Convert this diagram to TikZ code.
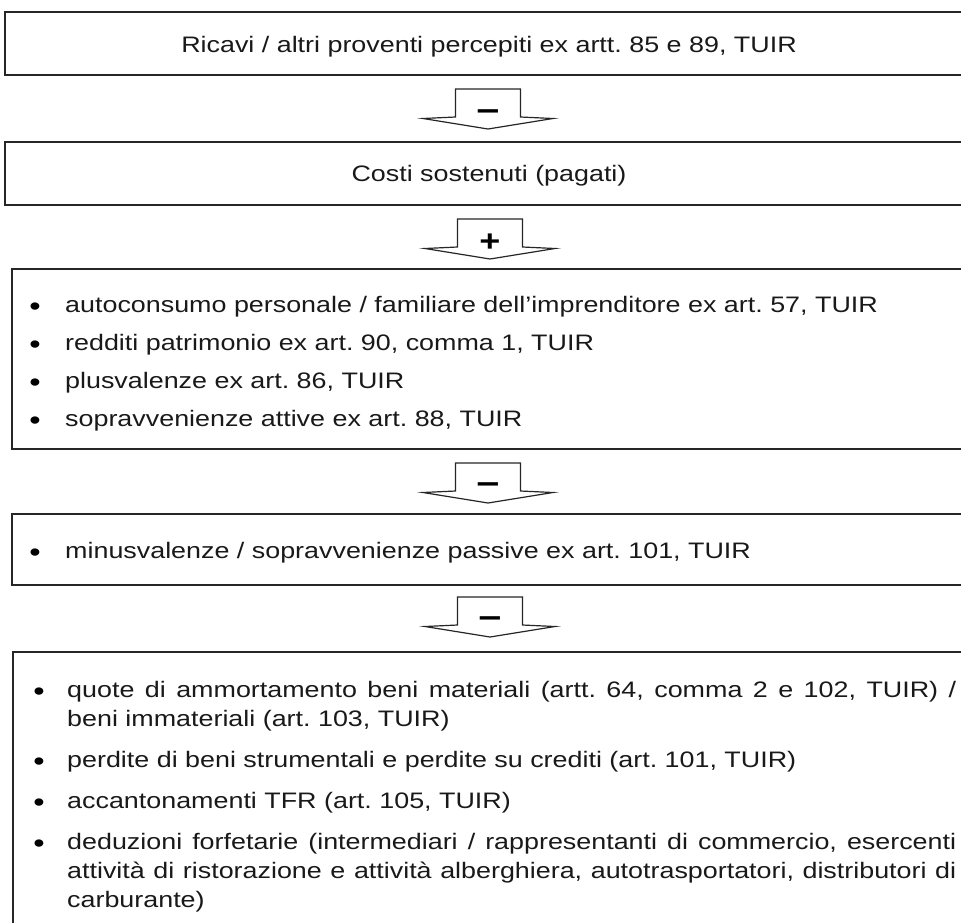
\documentclass[tikz,border=0pt]{standalone}
\usepackage{fontspec}
\setmainfont{Liberation Sans}[FakeStretch=1.2]
\frenchspacing
\begin{document}
\begin{tikzpicture}[x=1pt,y=-1pt,
  boxline/.style={draw=black!85,line width=1.4pt},
  txt/.style={inner sep=0pt,anchor=base west,font=\fontsize{22.4}{29}\selectfont\frenchspacing,text=black!90},
  ctxt/.style={inner sep=0pt,anchor=base,font=\fontsize{22.4}{29}\selectfont\frenchspacing,text=black!90},
  bul/.style={inner sep=0pt,anchor=base,font=\fontsize{27}{27}\selectfont},
  minussign/.style={inner sep=0pt,anchor=center,font=\fontsize{34}{34}\selectfont\bfseries},
  plussign/.style={inner sep=0pt,anchor=center,font=\fontsize{30}{30}\selectfont\bfseries},
  arrline/.style={draw=black!85,line width=1.2pt,fill=white,line join=miter},
  downarr/.pic={\path[arrline] (-32.5,0) -- (-32.5,28) -- (-65,29.5) -- (0,40) -- (65,29.5) -- (32.5,28) -- (32.5,0) -- cycle;}
]
\useasboundingbox (0,0) rectangle (961,922);
\clip (0,0) rectangle (961,922);

% boxes
\draw[boxline] (5,12) rectangle (975,75);
\draw[boxline] (5,142) rectangle (975,205);
\draw[boxline] (12,269) rectangle (975,449);
\draw[boxline] (12,514) rectangle (975,585);
\draw[boxline] (13,652) rectangle (975,940);

% box texts
\node[ctxt] (t1) at (489,52) {Ricavi / altri proventi percepiti ex artt. 85 e 89, TUIR};
\node[ctxt] (t2) at (489,181) {Costi sostenuti (pagati)};

\node[bul] (b31) at (35,315.5) {•};
\node[txt] (t31) at (65,312) {autoconsumo personale / familiare dell’imprenditore ex art. 57, TUIR};
\node[bul] (b32) at (35,353.5) {•};
\node[txt] (t32) at (65,350) {redditi patrimonio ex art. 90, comma 1, TUIR};
\node[bul] (b33) at (35,391.5) {•};
\node[txt] (t33) at (65,388) {plusvalenze ex art. 86, TUIR};
\node[bul] (b34) at (35,429.5) {•};
\node[txt] (t34) at (65,426) {sopravvenienze attive ex art. 88, TUIR};

\node[bul] (b41) at (35,561.5) {•};
\node[txt] (t41) at (65,558) {minusvalenze / sopravvenienze passive ex art. 101, TUIR};

\node[bul] (b51) at (39,700.5) {•};
\node[txt] (t51) at (67,697) {\makebox[889pt][s]{quote di ammortamento beni materiali (artt. 64, comma 2 e 102, TUIR) /}};
\node[txt] (t52) at (67,726) {beni immateriali (art. 103, TUIR)};
\node[bul] (b53) at (39,770.5) {•};
\node[txt] (t53) at (67,767) {perdite di beni strumentali e perdite su crediti (art. 101, TUIR)};
\node[bul] (b54) at (39,811.5) {•};
\node[txt] (t54) at (67,808) {accantonamenti TFR (art. 105, TUIR)};
\node[bul] (b55) at (39,852.5) {•};
\node[txt] (t55) at (67,849) {\makebox[889pt][s]{deduzioni forfetarie (intermediari / rappresentanti di commercio, esercenti}};
\node[txt] (t56) at (67,878) {\makebox[889pt][s]{attività di ristorazione e attività alberghiera, autotrasportatori, distributori di}};
\node[txt] (t57) at (67,907) {carburante)};

% block arrows
\pic (a1) at (488,89) {downarr};
\node[minussign] (s1) at (488,115) {–};
\pic (a2) at (490,219) {downarr};
\node[plussign] (s2) at (490,243) {+};
\pic (a3) at (488,463) {downarr};
\node[minussign] (s3) at (488,488) {–};
\pic (a4) at (490,597) {downarr};
\node[minussign] (s4) at (490,622) {–};
\end{tikzpicture}
\end{document}
